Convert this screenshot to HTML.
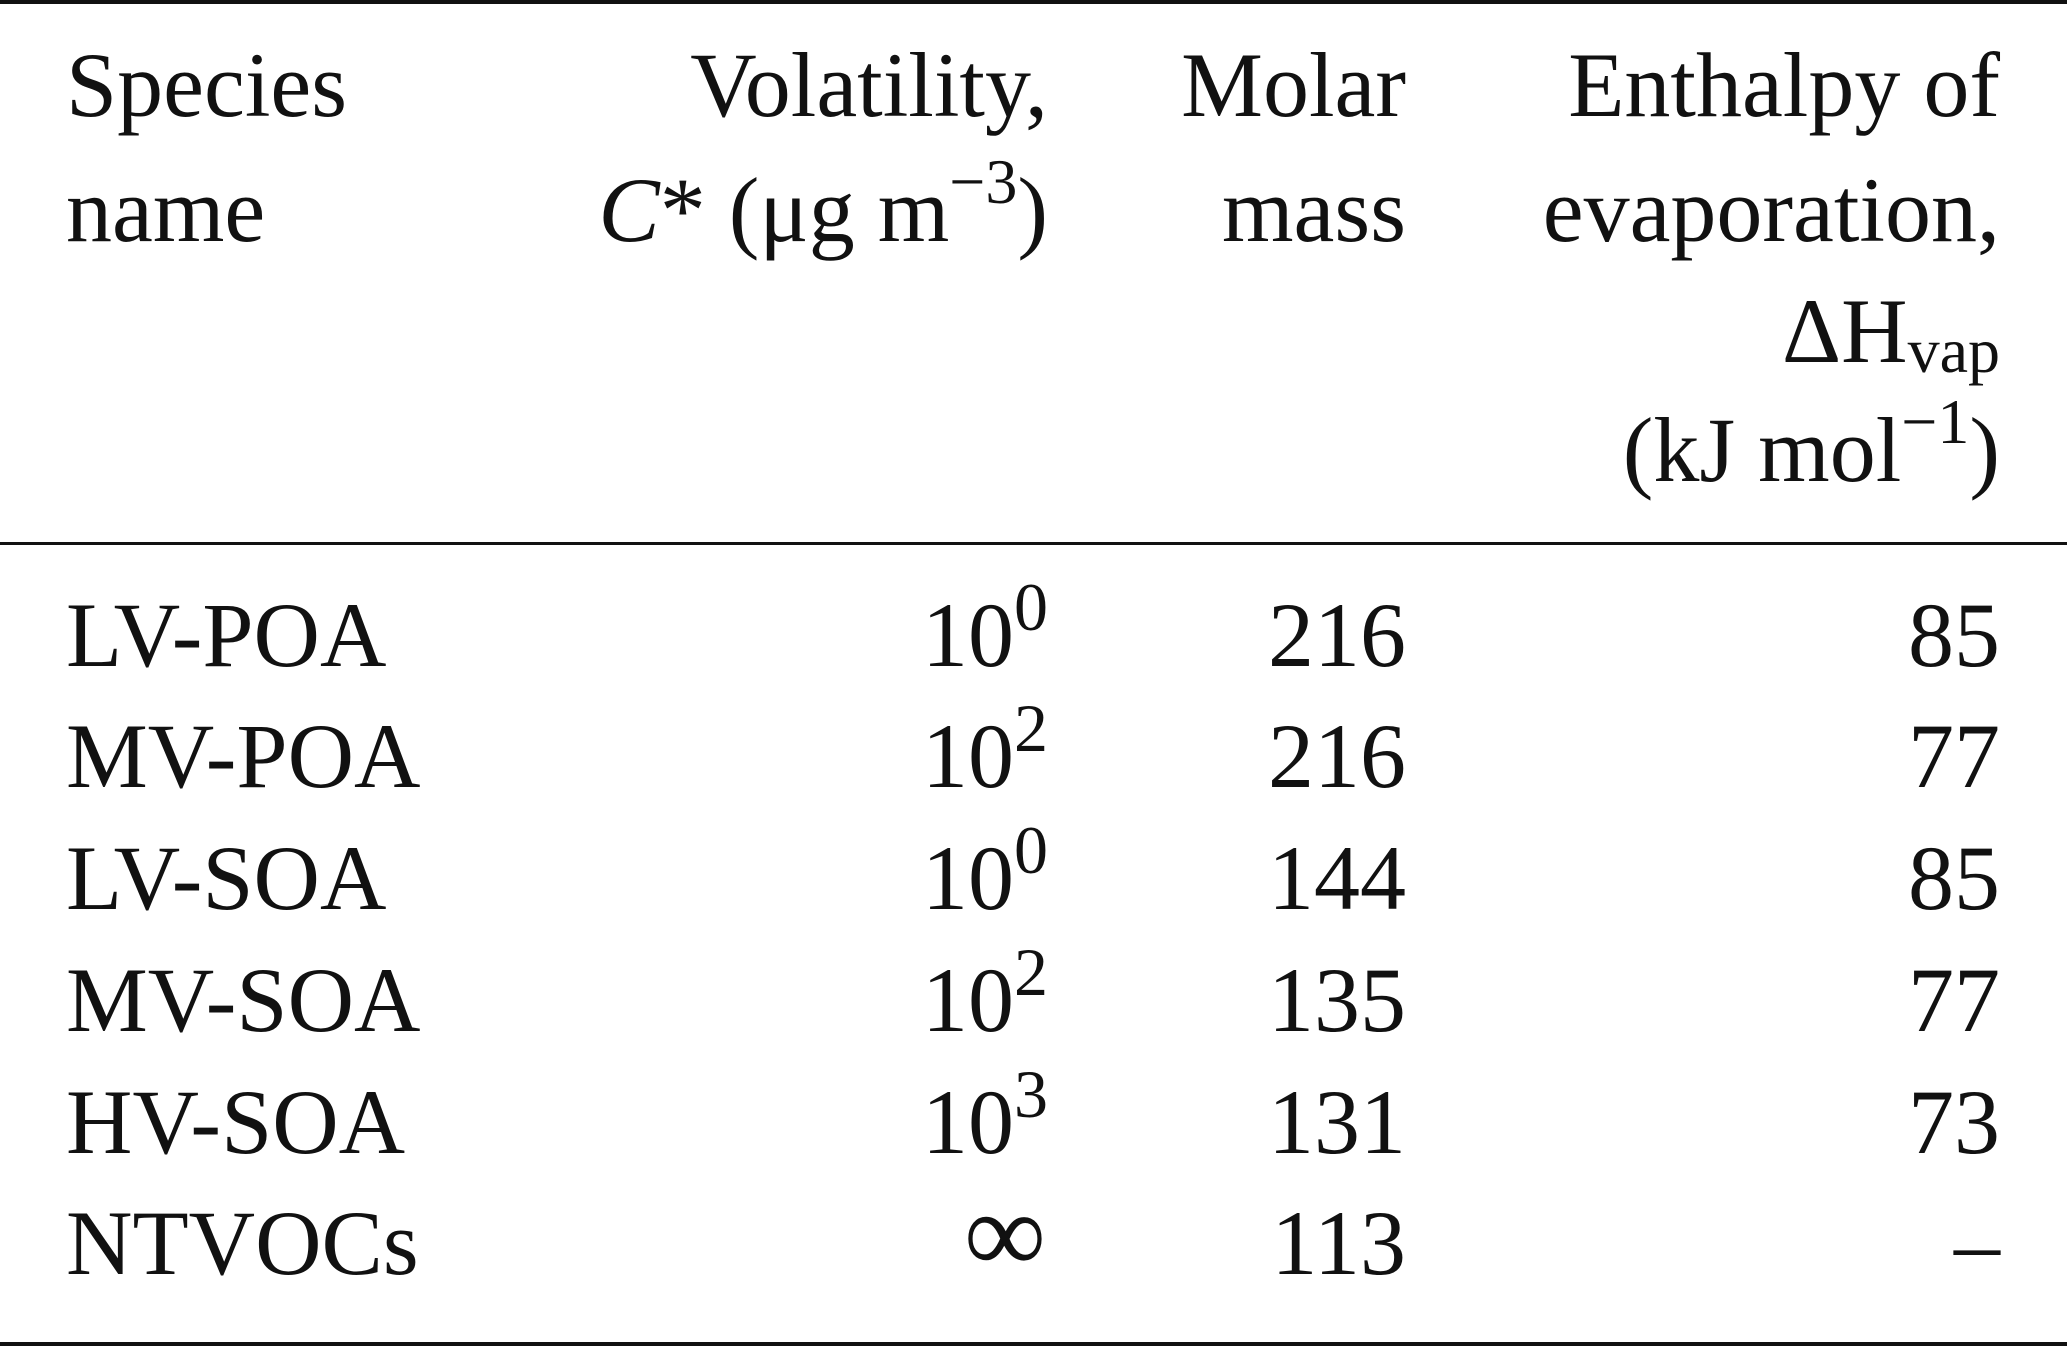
<!DOCTYPE html>
<html><head><meta charset="utf-8"><style>
html,body{margin:0;padding:0;background:#fff;}
svg{display:block;}
text{font-family:"Liberation Serif",serif;font-size:92px;fill:#111;}
.s{font-size:68px;}
.h{font-size:64px;}
.inf{font-size:115px;}
</style></head><body>
<svg width="2067" height="1347" viewBox="0 0 2067 1347">
<rect x="0" y="0" width="2067" height="4" fill="#111"/>
<rect x="0" y="542" width="2067" height="3" fill="#111"/>
<rect x="0" y="1342" width="2067" height="4" fill="#111"/>

<g>
<text x="66" y="116">Species</text><text x="66" y="241">name</text></g>
<g text-anchor="end">
<text x="1048" y="116">Volatility,</text>
<text x="1048" y="241"><tspan font-style="italic">C</tspan>* (μg m<tspan class="h" dy="-38">−3</tspan><tspan dy="38">)</tspan></text></g>
<g text-anchor="end">
<text x="1406" y="116">Molar</text><text x="1406" y="241">mass</text></g>
<g text-anchor="end">
<text x="2000" y="116">Enthalpy of</text>
<text x="2000" y="241">evaporation,</text>
<text x="2000" y="362">ΔH<tspan class="h" dy="10">vap</tspan></text>
<text x="2000" y="481">(kJ mol<tspan class="h" dy="-38">−1</tspan><tspan dy="38">)</tspan></text></g>

<g>
<g><text x="66" y="666">LV-POA</text><text x="1048" y="666" text-anchor="end">10<tspan class="s" dy="-36">0</tspan></text><text x="1406" y="666" text-anchor="end">216</text><text x="2000" y="666" text-anchor="end">85</text></g>
<g><text x="66" y="787">MV-POA</text><text x="1048" y="787" text-anchor="end">10<tspan class="s" dy="-36">2</tspan></text><text x="1406" y="787" text-anchor="end">216</text><text x="2000" y="787" text-anchor="end">77</text></g>
<g><text x="66" y="909">LV-SOA</text><text x="1048" y="909" text-anchor="end">10<tspan class="s" dy="-36">0</tspan></text><text x="1406" y="909" text-anchor="end">144</text><text x="2000" y="909" text-anchor="end">85</text></g>
<g><text x="66" y="1031">MV-SOA</text><text x="1048" y="1031" text-anchor="end">10<tspan class="s" dy="-36">2</tspan></text><text x="1406" y="1031" text-anchor="end">135</text><text x="2000" y="1031" text-anchor="end">77</text></g>
<g><text x="66" y="1153">HV-SOA</text><text x="1048" y="1153" text-anchor="end">10<tspan class="s" dy="-36">3</tspan></text><text x="1406" y="1153" text-anchor="end">131</text><text x="2000" y="1153" text-anchor="end">73</text></g>
<g><text x="66" y="1274">NTVOCs</text><text class="inf" x="1046" y="1272" text-anchor="end">∞</text><text x="1406" y="1274" text-anchor="end">113</text><text x="2000" y="1274" text-anchor="end">–</text></g>
</g>
</svg>
</body></html>
